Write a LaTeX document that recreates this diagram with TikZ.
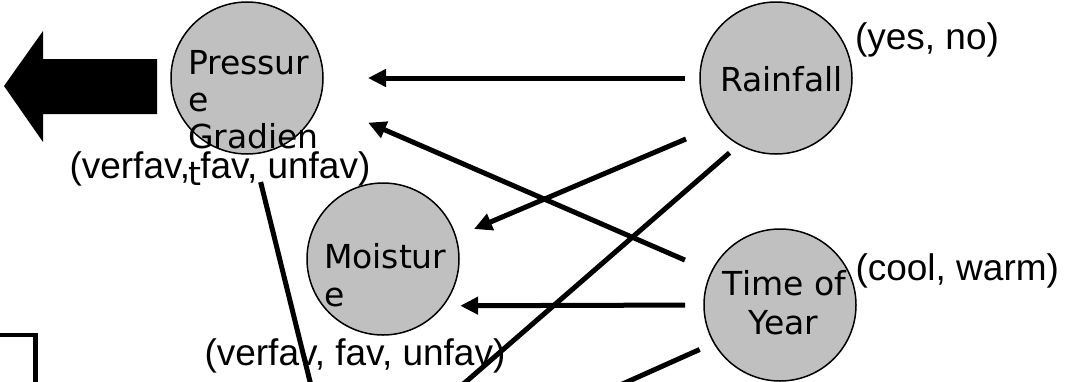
\documentclass[tikz,border=0pt]{standalone}
\usepackage{fontspec}
\setmainfont{DejaVu Sans}
\newfontfamily\labfont{Liberation Sans}
\usetikzlibrary{arrows.meta}
\definecolor{nodegray}{RGB}{192,192,192}
\tikzset{
  var/.style={circle, draw=black, line width=1.5pt, fill=nodegray,
    minimum size=152pt, inner sep=0pt, outer sep=0pt},
  txt/.style={inner sep=0pt, outer sep=0pt, font=\fontsize{33}{38}\selectfont},
  vals/.style={inner sep=0pt, outer sep=0pt, anchor=base west,
    font=\labfont\fontsize{37}{40}\selectfont},
  link/.style={line width=5pt, -{Triangle[length=18pt,width=17pt]}},
  plain/.style={line width=5pt}
}
\begin{document}
\begin{tikzpicture}[x=1pt,y=-1pt]
\useasboundingbox (0,0) rectangle (1066,381);
\clip (0,0) rectangle (1066,381);

% variables
\node[var] (press) at (247,78) {};
\node[var] (rain)  at (776,78) {};
\node[var] (moist) at (383,259) {};
\node[var] (time)  at (780,305) {};

% names inside the circles
\node[txt, anchor=base west] (p1) at (188,74)  {Pressur};
\node[txt, anchor=base west] (p2) at (188,111) {e};
\node[txt, anchor=base west] (p3) at (188,148) {Gradien};
\node[txt, anchor=base west] (p4) at (188,185) {t};
\node[txt, anchor=base west] (r1) at (720,91)  {Rainfall};
\node[txt, anchor=base west] (m1) at (324,268) {Moistur};
\node[txt, anchor=base west] (m2) at (324,306) {e};
\node[txt, anchor=base] (t1) at (784.5,295) {Time of};
\node[txt, anchor=base] (t2) at (783.5,334) {Year};

% value sets
\node[vals] (pv) at (69.5,178) {(verfav, fav, unfav)};
\node[vals] (mv) at (204.5,365) {(verfav, fav, unfav)};
\node[vals] (rv) at (855,49)   {(yes, no)};
\node[vals] (tv) at (855.5,280) {(cool, warm)};

% dependencies
\draw[link, shorten <=15pt, shorten >=45pt] (rain.180) -- (press.0);
\draw[link, shorten <=29.2pt, shorten >=53.2pt] (time.154) -- (press.-18.3);
\draw[link, shorten <=33.6pt, shorten >=19.9pt] (rain.219) -- (moist.17);
\draw[link, shorten <=19pt, shorten >=17.3pt] (time.180) -- (moist.-38.2);

% links leaving the frame
\coordinate (downA) at (391.4,446.5);
\coordinate (downB) at (538.6,421.5);
\coordinate (downC) at (324.3,439.3);
\draw[plain, shorten <=12.7pt] (rain.241.4) -- (downA);
\draw[plain, shorten <=15.9pt] (time.210.5) -- (downB);
\draw[plain, shorten <=29.2pt] (press.275.3) -- (downC);

% block arrow on the left
\fill[black] (4,86) -- (43,31) -- (43,59) -- (157,59) -- (157,114)
  -- (43,114) -- (43,142) -- cycle;

% corner of a box at the lower left
\draw[line width=4.5pt] (0,335) -- (35.5,335) -- (35.5,400);
\end{tikzpicture}
\end{document}
